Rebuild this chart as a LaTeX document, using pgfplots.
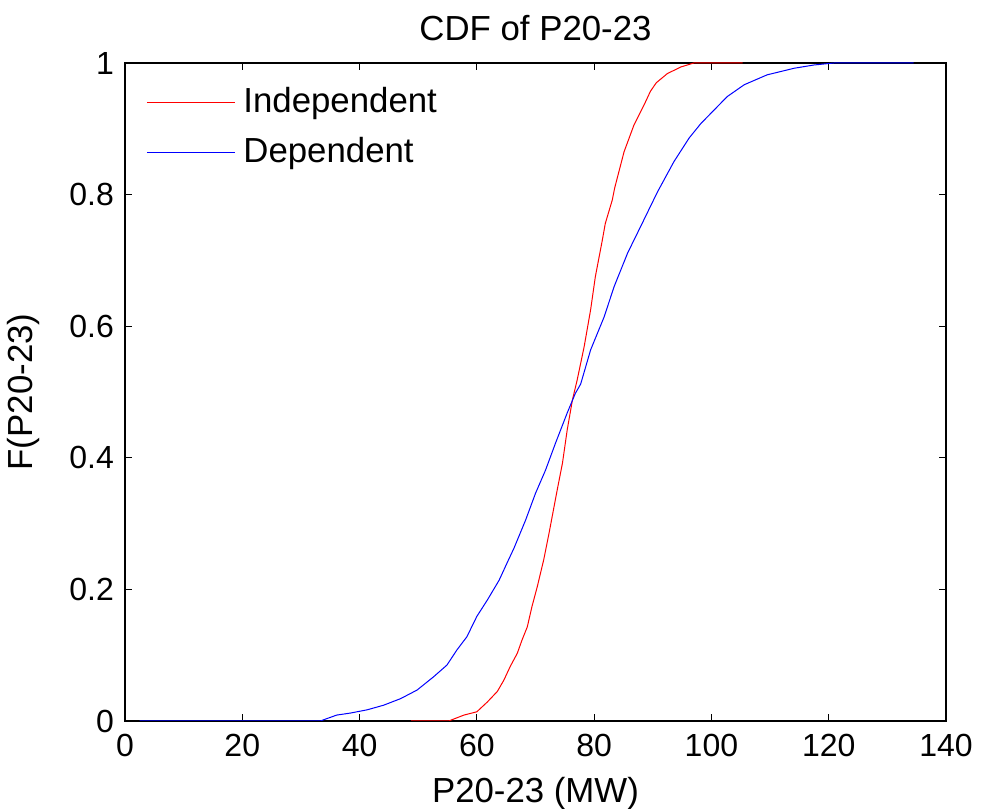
\documentclass[border=0pt]{standalone}
\usepackage{pgfplots}
\pgfplotsset{compat=1.18}
\usepackage{fontspec}
\setmainfont{Liberation Sans}
\begin{document}
\fontsize{16pt}{19pt}\selectfont
\begin{tikzpicture}
\begin{axis}[
  name=ax,
  scale only axis,
  width=410.5pt, height=329pt,
  xmin=0, xmax=140, ymin=0, ymax=1,
  xtick={0,20,...,140},
  ytick={0,0.2,0.4,0.6,0.8,1},
  yticklabels={0,0.2,0.4,0.6,0.8,1},
  /pgf/number format/assume math mode=true,
  tick align=inside,
  xtick pos=both, ytick pos=both,
  major tick length=3.5pt,
  tick style={black, line width=0.6pt},
  axis line style={black, line width=0.6pt},
  ticklabel style={font=\fontsize{16pt}{19pt}\selectfont},
  xticklabel style={yshift=-1pt},
  label style={font=\fontsize{17.4pt}{21pt}\selectfont},
  title style={font=\fontsize{17.4pt}{21pt}\selectfont, yshift=-0.5pt},
  title={CDF of P20-23},
  xlabel={P20-23 (MW)},
  ylabel={F(P20-23)},
  xlabel style={yshift=0.5pt},
  ylabel shift=4pt,
  legend cell align=left,
  legend style={draw=none, fill=none, at={(0,1)}, anchor=north west,
    xshift=10.5pt, yshift=-10pt, inner sep=0pt, row sep=6pt,
    font=\fontsize{17.4pt}{21pt}\selectfont},
  legend image code/.code={\draw[#1] (0pt,0pt) -- (44pt,0pt); \path (46pt,0pt);},
]
\addplot[color=red, line width=0.5pt] coordinates {
(48.8,0) (55.2,0) (57.8,0.009) (60.0,0.014) (61.8,0.029) (63.5,0.045) (64.6,0.062)
(65.7,0.083) (66.9,0.103) (67.7,0.123) (68.6,0.143) (69.4,0.174) (70.3,0.204)
(71.4,0.245) (72.3,0.285) (73.7,0.351) (74.6,0.392) (75.4,0.442) (76.3,0.488)
(77.1,0.518) (78.3,0.569) (79.4,0.625) (80.2,0.675) (81.4,0.731) (81.9,0.756)
(83.1,0.792) (83.5,0.81) (85.1,0.865) (86.8,0.906) (88.5,0.936) (89.6,0.957)
(90.6,0.970) (92.5,0.984) (94.8,0.994) (97.0,1) (105.3,1)
};
\addlegendentry{Independent}
\addplot[color=blue, line width=0.5pt] coordinates {
(2.5,0) (33.3,0) (36.1,0.009) (38.4,0.012) (41.3,0.017) (44.1,0.024) (47.0,0.034)
(49.8,0.047) (52.6,0.067) (54.9,0.085) (56.6,0.108) (58.3,0.128) (60.0,0.159)
(61.8,0.184) (63.8,0.214) (65.4,0.245) (66.3,0.262) (68.3,0.305) (70.0,0.346)
(71.7,0.381) (73.4,0.422) (75.4,0.468) (76.8,0.498) (77.7,0.512) (79.4,0.564)
(81.7,0.614) (83.4,0.66) (85.7,0.711) (87.9,0.751) (90.8,0.804) (93.6,0.85)
(96.2,0.886) (98.2,0.908) (102.7,0.949) (105.6,0.967) (109.5,0.982) (114.1,0.992)
(117.5,0.997) (120.9,1) (134.5,1)
};
\addlegendentry{Dependent}
\end{axis}
\pgfresetboundingbox
\path ([shift={(-62.5pt,-44pt)}]ax.south west) rectangle ([shift={(17.5pt,31.5pt)}]ax.north east);
\end{tikzpicture}
\end{document}
